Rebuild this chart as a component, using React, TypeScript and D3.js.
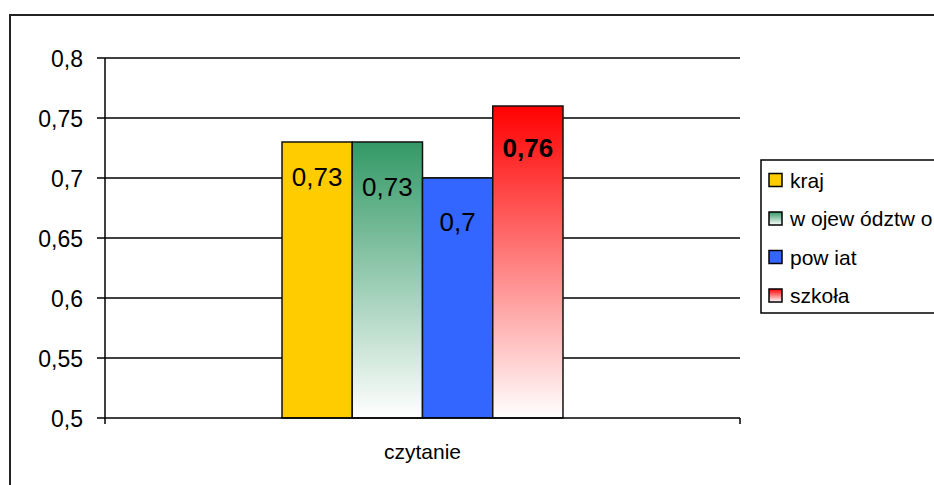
import React, { useEffect, useRef } from "react";
import * as d3 from "d3";

// chart data
const categories = ["czytanie"];
const seriesNames = ["kraj", "województwo", "powiat", "szkoła"];
const legendLabels = ["kraj", "w ojew ództw o", "pow iat", "szkoła"];
const seriesValues = [0.73, 0.73, 0.7, 0.76];
const valueLabels = ["0,73", "0,73", "0,7", "0,76"];
const yTicks = [0.5, 0.55, 0.6, 0.65, 0.7, 0.75, 0.8];
const yTickLabels = ["0,5", "0,55", "0,6", "0,65", "0,7", "0,75", "0,8"];

// styling per series
const fills = ["#FFCC00", "url(#gGreen)", "#3366FF", "url(#gRed)"];
const legendFills = ["#FFCC00", "url(#gGreenL)", "#3366FF", "url(#gRedL)"];
const labelDy = [35, 45, 44, 42];
const labelBold = [false, false, false, true];

const W = 934,
  H = 485;
const font = "Liberation Sans, Arial, sans-serif";

export default function App() {
  const ref = useRef<SVGSVGElement>(null);

  useEffect(() => {
    const svg = d3.select(ref.current);
    svg.selectAll("*").remove();

    const defs = svg.append("defs");
    const grad = (id: string, top: string) => {
      const g = defs
        .append("linearGradient")
        .attr("id", id)
        .attr("x1", 0)
        .attr("y1", 0)
        .attr("x2", 0)
        .attr("y2", 1);
      g.append("stop").attr("offset", "0%").attr("stop-color", top);
      g.append("stop").attr("offset", "100%").attr("stop-color", "#ffffff");
    };
    grad("gGreen", "#339966");
    grad("gRed", "#FF0000");
    grad("gGreenL", "#339966");
    grad("gRedL", "#FF0000");

    // outer frame
    svg
      .append("rect")
      .attr("x", 10)
      .attr("y", 15)
      .attr("width", W + 20)
      .attr("height", H + 20)
      .attr("fill", "#fff")
      .attr("stroke", "#222")
      .attr("stroke-width", 2);

    const left = 105,
      right = 740,
      top = 58,
      bottom = 418;

    const y = d3.scaleLinear().domain([0.5, 0.8]).range([bottom, top]);
    const x0 = d3.scaleBand().domain(categories).range([left, right]).paddingInner(0).paddingOuter(0.63);
    const x1 = d3.scaleBand().domain(seriesNames).range([0, x0.bandwidth()]);

    const g = svg.append("g");

    // gridlines
    g.selectAll(".grid")
      .data(yTicks.slice(1))
      .join("line")
      .attr("x1", left)
      .attr("x2", right)
      .attr("y1", (d) => y(d))
      .attr("y2", (d) => y(d))
      .attr("stroke", "#000")
      .attr("stroke-width", 1.5);

    // tick marks + labels
    g.selectAll(".ytick")
      .data(yTicks)
      .join("line")
      .attr("x1", left - 8)
      .attr("x2", left)
      .attr("y1", (d) => y(d))
      .attr("y2", (d) => y(d))
      .attr("stroke", "#000")
      .attr("stroke-width", 1.5);

    g.selectAll(".ylab")
      .data(yTicks)
      .join("text")
      .attr("x", left - 22)
      .attr("y", (d) => y(d) + 9)
      .attr("text-anchor", "end")
      .style("font-family", font)
      .style("font-size", "23px")
      .text((d, i) => yTickLabels[i]);

    // bars
    const cat = categories[0];
    g.selectAll(".bar")
      .data(seriesValues)
      .join("rect")
      .attr("x", (d, i) => (x0(cat) as number) + (x1(seriesNames[i]) as number))
      .attr("y", (d) => y(d))
      .attr("width", x1.bandwidth())
      .attr("height", (d) => bottom - y(d))
      .attr("fill", (d, i) => fills[i])
      .attr("stroke", "#111")
      .attr("stroke-width", 1.5);

    g.selectAll(".vlab")
      .data(seriesValues)
      .join("text")
      .attr("x", (d, i) => (x0(cat) as number) + (x1(seriesNames[i]) as number) + x1.bandwidth() / 2)
      .attr("y", (d, i) => y(d) + labelDy[i] + 9)
      .attr("text-anchor", "middle")
      .style("font-family", font)
      .style("font-size", "26px")
      .style("font-weight", (d, i) => (labelBold[i] ? "bold" : "normal"))
      .text((d, i) => valueLabels[i]);

    // axes
    g.append("line")
      .attr("x1", left)
      .attr("x2", left)
      .attr("y1", top)
      .attr("y2", bottom + 6)
      .attr("stroke", "#000")
      .attr("stroke-width", 1.5);
    g.append("line")
      .attr("x1", left)
      .attr("x2", right)
      .attr("y1", bottom)
      .attr("y2", bottom)
      .attr("stroke", "#000")
      .attr("stroke-width", 1.5);
    g.append("line")
      .attr("x1", right)
      .attr("x2", right)
      .attr("y1", bottom)
      .attr("y2", bottom + 6)
      .attr("stroke", "#000")
      .attr("stroke-width", 1.5);

    g.selectAll(".xlab")
      .data(categories)
      .join("text")
      .attr("x", (d) => (x0(d) as number) + x0.bandwidth() / 2)
      .attr("y", 459)
      .attr("text-anchor", "middle")
      .style("font-family", font)
      .style("font-size", "21px")
      .text((d) => d);

    // legend
    const lg = svg.append("g");
    lg.append("rect")
      .attr("x", 761)
      .attr("y", 160)
      .attr("width", 200)
      .attr("height", 153)
      .attr("fill", "#fff")
      .attr("stroke", "#000")
      .attr("stroke-width", 1.5);

    const items = lg
      .selectAll(".item")
      .data(legendLabels)
      .join("g")
      .attr("transform", (d, i) => `translate(769, ${180 + i * 38.5})`);
    items
      .append("rect")
      .attr("x", 0)
      .attr("y", -6.5)
      .attr("width", 13)
      .attr("height", 13)
      .attr("fill", (d, i) => legendFills[i])
      .attr("stroke", "#000")
      .attr("stroke-width", 1.5);
    items
      .append("text")
      .attr("x", 21)
      .attr("y", 7.5)
      .style("font-family", font)
      .style("font-size", "21px")
      .text((d) => d);
  }, []);

  return (
    <svg
      ref={ref}
      width={W}
      height={H}
      style={{ position: "absolute", left: 0, top: 0, background: "#fff" }}
    />
  );
}
